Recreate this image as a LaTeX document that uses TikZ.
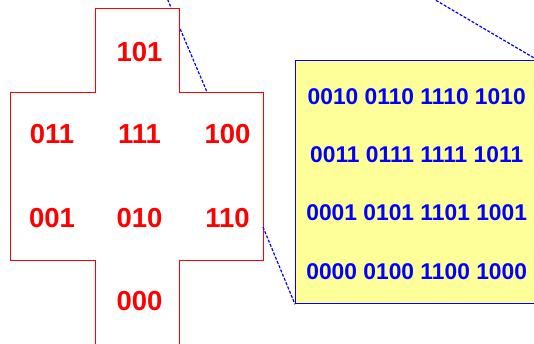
\documentclass[tikz,border=0pt]{standalone}
\usepackage{fontspec}
\setmainfont{Liberation Sans}
\definecolor{paleyellow}{RGB}{255,255,153}
\begin{document}
\begin{tikzpicture}[x=1pt,y=-1pt,
  bitlbl/.style={text=red, font=\fontsize{27.5}{27.5}\selectfont\bfseries, inner sep=0pt},
  codelbl/.style={text=blue, font=\fontsize{22.8}{22.8}\selectfont\bfseries, inner sep=0pt},
  zoomline/.style={blue, dash pattern=on 3pt off 1.6pt, line width=1.2pt},
  crossshape/.style={draw=red, fill=white, line width=0.9pt},
  codebox/.style={draw=blue, fill=paleyellow, line width=1.3pt, minimum width=250pt, minimum height=243pt, inner sep=0pt, anchor=north west}
]
\useasboundingbox (0,0) rectangle (534,344);
\clip (0,0) rectangle (534,344);
% zoom lines (behind)
\coordinate (l1a) at (164,-9);
\coordinate (l1b) at (207,92);
\coordinate (l2a) at (420,-9);
\coordinate (l2b) at (537.5,60);
\coordinate (l3a) at (263,227);
\node[codebox] (box) at (295,60) {};
\draw[zoomline] (l1a) -- (l1b);
\draw[zoomline] (l2a) -- (l2b);
% cross
\draw[crossshape] (95,8) -- (179,8) -- (179,92) -- (263,92) -- (263,260) -- (179,260) -- (179,350) -- (95,350) -- (95,260) -- (10,260) -- (10,92) -- (95,92) -- cycle;
\draw[zoomline] (l3a) -- (box.south west);
% red labels
\node[bitlbl] (n101) at (139.5,51.7) {101};
\node[bitlbl] (n011) at (52,134.5) {011};
\node[bitlbl] (n111) at (139.5,134.5) {111};
\node[bitlbl] (n100) at (227.5,134.5) {100};
\node[bitlbl] (n001) at (52,217.8) {001};
\node[bitlbl] (n010) at (139.5,217.8) {010};
\node[bitlbl] (n110) at (227.5,217.8) {110};
\node[bitlbl] (n000) at (139.5,301.2) {000};
% blue codes
\node[codelbl] (r1) at (416.7,96.2) {0010 0110 1110 1010};
\node[codelbl] (r2) at (416.7,154.7) {0011 0111 1111 1011};
\node[codelbl] (r3) at (416.7,212.5) {0001 0101 1101 1001};
\node[codelbl] (r4) at (416.7,271.3) {0000 0100 1100 1000};
\end{tikzpicture}
\end{document}
